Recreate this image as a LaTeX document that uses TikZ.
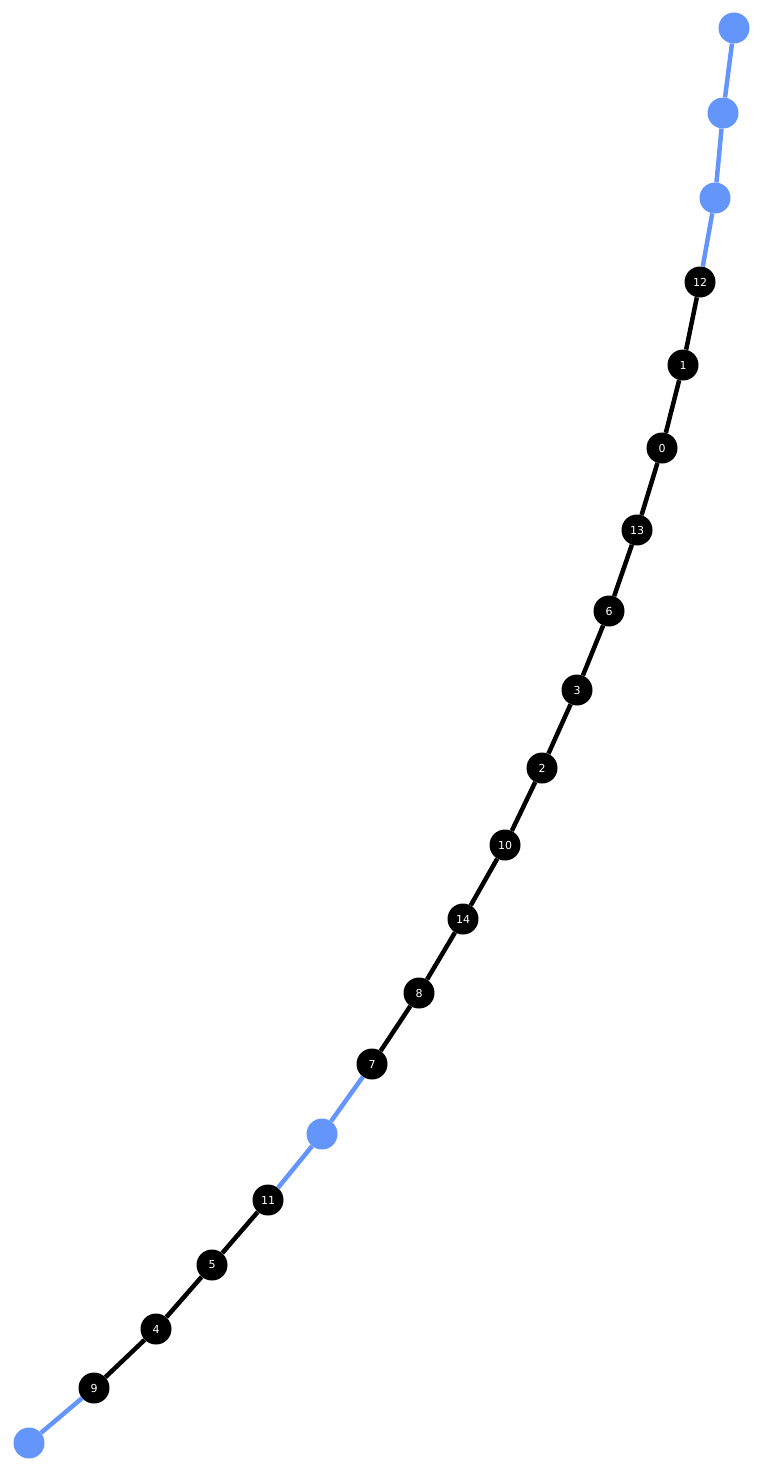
\documentclass[tikz,border=0pt]{standalone}
\usepackage{fontspec}
\setsansfont{DejaVu Sans}
\definecolor{chainblue}{RGB}{100,149,250}
\tikzset{
  qnode/.style={circle,fill=black,minimum size=31pt,inner sep=0pt,text=white,font=\sffamily\fontsize{11}{12}\selectfont},
  pnode/.style={circle,fill=chainblue,minimum size=31pt,inner sep=0pt},
  qedge/.style={line width=4.5pt,black},
  pedge/.style={line width=4.5pt,chainblue}
}
\begin{document}
\begin{tikzpicture}[x=1pt,y=-1pt]
      \useasboundingbox (0,0) rectangle (763,1473);

      \node[pnode] (P1) at (734,28) {};
      \node[pnode] (P2) at (723,113) {};
      \node[pnode] (P3) at (715,198) {};

      \node[qnode] (Q12) at (700,282) {12};
      \node[qnode] (Q1) at (683,365) {1};
      \node[qnode] (Q0) at (662,448) {0};
      \node[qnode] (Q13) at (637,530) {13};
      \node[qnode] (Q6) at (609,611) {6};
      \node[qnode] (Q3) at (577,690) {3};
      \node[qnode] (Q2) at (542,768) {2};
      \node[qnode] (Q10) at (505,845) {10};
      \node[qnode] (Q14) at (463,919) {14};
      \node[qnode] (Q8) at (419,993) {8};
      \node[qnode] (Q7) at (372,1064) {7};

      \node[pnode] (P4) at (322,1134) {};

      \node[qnode] (Q11) at (268,1200) {11};
      \node[qnode] (Q5) at (212,1265) {5};
      \node[qnode] (Q4) at (156,1329) {4};
      \node[qnode] (Q9) at (94,1388) {9};

      \node[pnode] (P5) at (29,1443) {};

      \draw[pedge] (P1) -- (P2);
      \draw[pedge] (P2) -- (P3);
      \draw[pedge] (P3) -- (Q12);
      \draw[qedge] (Q12) -- (Q1);
      \draw[qedge] (Q1) -- (Q0);
      \draw[qedge] (Q0) -- (Q13);
      \draw[qedge] (Q13) -- (Q6);
      \draw[qedge] (Q6) -- (Q3);
      \draw[qedge] (Q3) -- (Q2);
      \draw[qedge] (Q2) -- (Q10);
      \draw[qedge] (Q10) -- (Q14);
      \draw[qedge] (Q14) -- (Q8);
      \draw[qedge] (Q8) -- (Q7);
      \draw[pedge] (Q7) -- (P4);
      \draw[pedge] (P4) -- (Q11);
      \draw[qedge] (Q11) -- (Q5);
      \draw[qedge] (Q5) -- (Q4);
      \draw[qedge] (Q4) -- (Q9);
      \draw[pedge] (Q9) -- (P5);
    \end{tikzpicture}
\end{document}
